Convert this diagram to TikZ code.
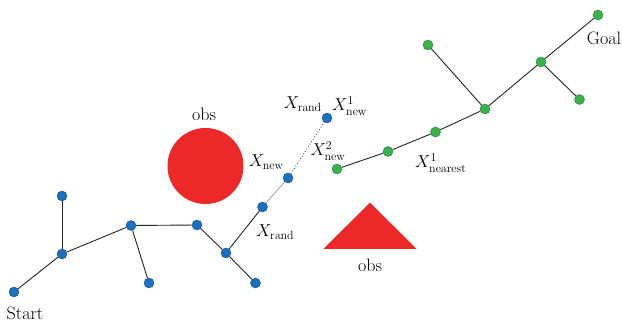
\documentclass[tikz,border=0pt]{standalone}
\begin{document}
\begin{tikzpicture}[x=1pt,y=-1pt,
  bdot/.style={circle,fill=nodeblue,draw=nodeblue!70!black,line width=0.4pt,inner sep=0pt,minimum size=10pt},
  gdot/.style={circle,fill=nodegreen,draw=nodegreen!70!black,line width=0.4pt,inner sep=0pt,minimum size=10pt},
  edge/.style={draw=black!85,line width=0.9pt},
  lbl/.style={font=\fontsize{18}{20}\selectfont,inner sep=0pt},
  obsfill/.style={fill=obsred,draw=none}]
\definecolor{nodeblue}{RGB}{28,112,192}
\definecolor{nodegreen}{RGB}{58,178,76}
\definecolor{obsred}{RGB}{237,40,40}
\useasboundingbox (0,0) rectangle (622,323);
\fill[white] (0,0) rectangle (622,323);
% obstacles
\fill[obsfill] (205.5,166) circle (38);
\fill[obsfill] (370,202.7) -- (416.7,249) -- (323.3,249) -- cycle;
\node[lbl] (obs1) at (204,114) {obs};
\node[lbl] (obs2) at (370,265) {obs};
% blue tree nodes
\node[bdot] (s) at (14,292) {};
\node[bdot] (b1) at (62,254) {};
\node[bdot] (b2) at (62,196) {};
\node[bdot] (b3) at (131,225.5) {};
\node[bdot] (b4) at (149,283) {};
\node[bdot] (b5) at (197,225) {};
\node[bdot] (b6) at (226,253) {};
\node[bdot] (b7) at (255.5,283) {};
\node[bdot] (b8) at (262.5,207) {};
\node[bdot] (b9) at (288,178) {};
\node[bdot] (b10) at (327,118) {};
% green tree nodes
\node[gdot] (g1) at (337,169) {};
\node[gdot] (g2) at (388,151.5) {};
\node[gdot] (g3) at (435.5,132) {};
\node[gdot] (g4) at (485,109) {};
\node[gdot] (g5) at (428,45) {};
\node[gdot] (g6) at (541,62) {};
\node[gdot] (g7) at (579.5,99.5) {};
\node[gdot] (g8) at (598,15) {};
% blue edges
\draw[edge] (s) -- (b1);
\draw[edge] (b1) -- (b2);
\draw[edge] (b1) -- (b3);
\draw[edge] (b3) -- (b4);
\draw[edge] (b3) -- (b5);
\draw[edge] (b5) -- (b6);
\draw[edge] (b6) -- (b7);
\draw[edge] (b6) -- (b8);
\draw[draw=black!45,line width=0.6pt] (b8) -- (b9);
\draw[draw=black!70,line width=0.9pt,dotted] (b9) -- (b10);
% green edges
\draw[edge] (g1) -- (g2);
\draw[edge] (g2) -- (g3);
\draw[edge] (g3) -- (g4);
\draw[edge] (g4) -- (g6);
\draw[edge] (g6) -- (g8);
\draw[edge] (g4) -- (g5);
\draw[edge] (g6) -- (g7);
% labels
\node[lbl] (start) at (25,313) {Start};
\node[lbl] (goal) at (604,38) {Goal};
\node[lbl,anchor=east] (xr1) at (322,104) {$X_{\mathrm{rand}}$};
\node[lbl,anchor=west] (xn1) at (332,106) {$X^1_{\mathrm{new}}$};
\node[lbl] (xn2) at (328,151) {$X^2_{\mathrm{new}}$};
\node[lbl,anchor=east] (xn) at (284,162) {$X_{\mathrm{new}}$};
\node[lbl,anchor=west] (xr2) at (256,232) {$X_{\mathrm{rand}}$};
\node[lbl,anchor=west] (xnear) at (415,163) {$X^1_{\mathrm{nearest}}$};
\end{tikzpicture}
\end{document}
